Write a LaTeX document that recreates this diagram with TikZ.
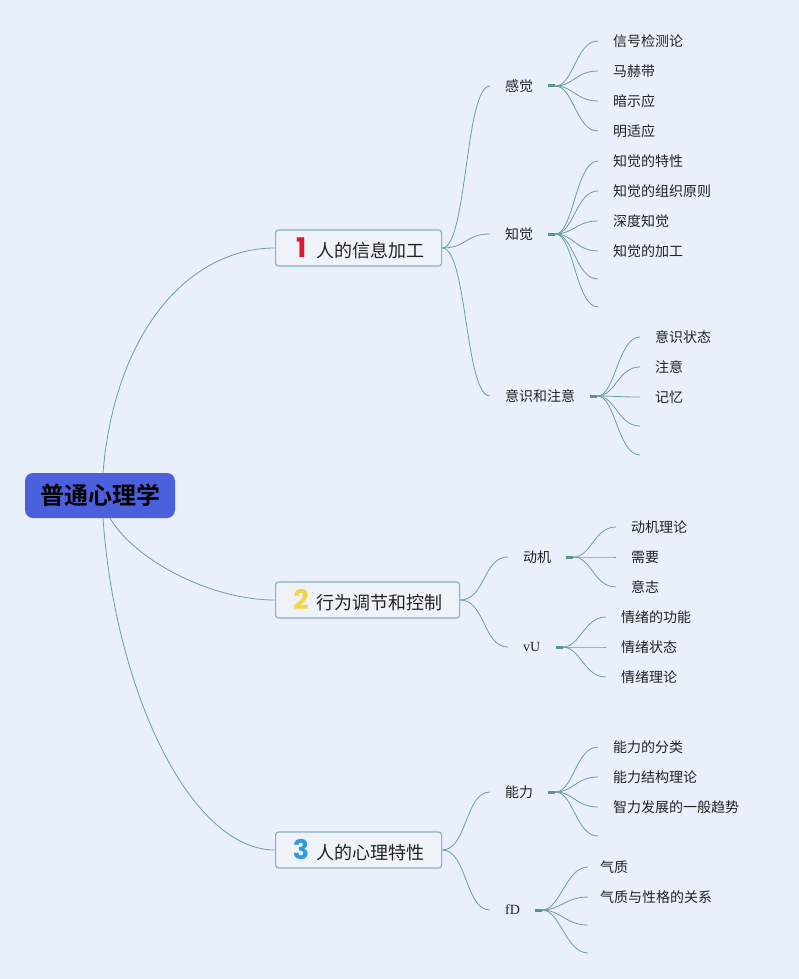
\documentclass[tikz,border=0pt]{standalone}
\usepackage{fontspec}
\setmainfont{Noto Sans CJK SC}[BoldFont={Noto Sans CJK SC Bold}]
\newfontfamily\numfont{Poppins}[BoldFont={Poppins Bold}]
\newfontfamily\latinserif{Liberation Serif}

\definecolor{bg}{HTML}{E9EFFB}
\definecolor{rootblue}{HTML}{4A60DD}
\definecolor{boxfill}{HTML}{EEF3FA}
\definecolor{boxline}{HTML}{8DB0BC}
\definecolor{linec}{HTML}{6E9E9E}
\definecolor{stubc}{HTML}{5F9488}
\definecolor{txt}{HTML}{222222}
\definecolor{numred}{HTML}{E0182D}
\definecolor{numyellow}{HTML}{F5D442}
\definecolor{numblue}{HTML}{2D9BDC}

\tikzset{
	rootbox/.style={fill=rootblue, rounded corners=8pt, minimum width=150pt, minimum height=45pt, text=black, font=\fontsize{24}{26}\selectfont\bfseries},
	topic/.style={draw=boxline, fill=boxfill, rounded corners=3pt, line width=1.2pt, minimum height=36pt, inner xsep=17pt, anchor=west, text=txt, font=\fontsize{18}{20}\selectfont},
	sub/.style={anchor=west, inner xsep=15pt, inner ysep=2pt, text=txt, font=\fontsize{14}{16}\selectfont},
	leaf/.style={anchor=west, inner xsep=15pt, inner ysep=2pt, text=txt, font=\fontsize{14}{16}\selectfont},
	branch/.style={draw=linec, line width=0.8pt},
	stub/.style={draw=stubc, line width=3pt}
}

\newcommand{\num}[2]{\makebox[17pt][c]{\numfont\bfseries\color{#1}\fontsize{27}{27}\selectfont #2}\hspace{7pt}}

\begin{document}
\begin{tikzpicture}[x=1pt,y=-1pt]
	\fill[bg] (0,0) rectangle (799,979);

	% root and main topics
	\node[rootbox] (xl) at (100,495.5) {普通心理学};
	\node[topic] (info) at (275,248) {\num{numred}{1}人的信息加工};
	\node[topic] (ctrl) at (275,600) {\num{numyellow}{2}行为调节和控制};
	\node[topic] (trait) at (275,850) {\num{numblue}{3}人的心理特性};

	\draw[branch] ([xshift=3pt]xl.north) .. controls (115,330) and (190,248) .. (info.west);
	\draw[branch] ([xshift=10pt]xl.south) .. controls (135,560) and (210,600) .. (ctrl.west);
	\draw[branch] ([xshift=3pt]xl.south) .. controls (115,690) and (190,850) .. (trait.west);

	% sub topics
	\node[sub] (gj) at (490,86) {感觉};
	\node[sub] (zj) at (490,234) {知觉};
	\node[sub] (ys) at (490,396) {意识和注意};
	\node[sub] (dj) at (508,557) {动机};
	\node[sub] (vu) at (508,647) {\latinserif vU};
	\node[sub] (nl) at (490,792) {能力};
	\node[sub] (fd) at (490,910) {\latinserif fD};

	\foreach \s in {gj,zj,ys}
		\draw[branch] (info.east) .. controls +(25,0) and +(-25,0) .. (\s.west);
	\foreach \s in {dj,vu}
		\draw[branch] (ctrl.east) .. controls +(25,0) and +(-25,0) .. (\s.west);
	\foreach \s in {nl,fd}
		\draw[branch] (trait.east) .. controls +(25,0) and +(-25,0) .. (\s.west);

	\foreach \s in {gj,zj,ys,dj,vu,nl,fd}
		\draw[stub] (\s.east) -- ++(7,0) coordinate (\s s);

	% leaves
	\foreach \t [count=\i] in {信号检测论,马赫带,暗示应,明适应}
		\node[leaf] (gj\i) at (598,{11+30*\i}) {\t};
	\foreach \t [count=\i] in {知觉的特性,知觉的组织原则,深度知觉,知觉的加工}
		\node[leaf] (zj\i) at (598,{131+30*\i}) {\t};
	\coordinate (zj5) at (598,279);
	\coordinate (zj6) at (598,307);
	\foreach \t [count=\i] in {意识状态,注意,记忆}
		\node[leaf] (ys\i) at (640,{307+30*\i}) {\t};
	\coordinate (ys4) at (640,426);
	\coordinate (ys5) at (640,455);
	\foreach \t [count=\i] in {动机理论,需要,意志}
		\node[leaf] (dj\i) at (616,{497+30*\i}) {\t};
	\foreach \t [count=\i] in {情绪的功能,情绪状态,情绪理论}
		\node[leaf] (vu\i) at (606,{587+30*\i}) {\t};
	\foreach \t [count=\i] in {能力的分类,能力结构理论,智力发展的一般趋势}
		\node[leaf] (nl\i) at (598,{717+30*\i}) {\t};
	\coordinate (nl4) at (598,836);
	\node[leaf, inner xsep=12pt] (fd1) at (588,867) {气质};
	\node[leaf, inner xsep=12pt] (fd2) at (588,897) {气质与性格的关系};
	\coordinate (fd3) at (588,925);
	\coordinate (fd4) at (588,953);

	\foreach \s/\n in {gj/4,zj/6,ys/5,dj/3,vu/3,nl/4,fd/4}
		\foreach \i in {1,...,\n}
			\draw[branch] (\s s) .. controls +(18,0) and +(-22,0) .. (\s\i.west);
\end{tikzpicture}
\end{document}
